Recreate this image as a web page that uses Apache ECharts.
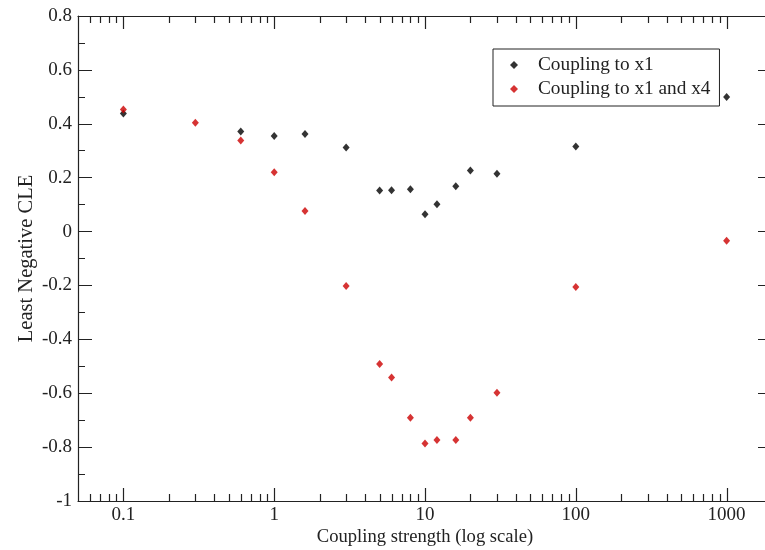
<!DOCTYPE html>
<html>
<head>
<meta charset="utf-8">
<script src="https://cdn.jsdelivr.net/npm/echarts@6/dist/echarts.min.js"></script>
<style>
  html, body { margin: 0; padding: 0; background: #fff; }
  #chart { width: 765px; height: 550px; }
</style>
</head>
<body>
<div id="chart"></div>
<script>
// coupling strengths (x) and least negative CLE (y)
const x1Strength = [0.1, 0.6, 1, 1.6, 3, 5, 6, 8, 10, 12, 16, 20, 30, 100, 1000];
const x1Cle = [0.438, 0.371, 0.355, 0.362, 0.312, 0.152, 0.153, 0.157, 0.064, 0.101, 0.168, 0.227, 0.215, 0.316, 0.499];

const x14Strength = [0.1, 0.3, 0.6, 1, 1.6, 3, 5, 6, 8, 10, 12, 16, 20, 30, 100, 1000];
const x14Cle = [0.453, 0.404, 0.338, 0.220, 0.076, -0.202, -0.492, -0.542, -0.691, -0.787, -0.774, -0.774, -0.691, -0.598, -0.206, -0.034];

const seriesNames = ["Coupling to x1", "Coupling to x1 and x4"];

// log axis ticks: decades (long) and 2..9 in each decade (short)
const majorTicks = [0.1, 1, 10, 100, 1000];
const minorTicks = [
  0.06, 0.07, 0.08, 0.09,
  0.2, 0.3, 0.4, 0.5, 0.6, 0.7, 0.8, 0.9,
  2, 3, 4, 5, 6, 7, 8, 9,
  20, 30, 40, 50, 60, 70, 80, 90,
  200, 300, 400, 500, 600, 700, 800, 900
];

const xMin = 0.05, xMax = 2000;
const yMin = -1, yMax = 0.8;

const font = "Liberation Serif";
const axisColor = "#222";
const textColor = "#222";

const chart = echarts.init(document.getElementById("chart"));

const zip = (xs, ys) => xs.map((x, i) => [x, ys[i]]);

// tick marks along bottom and top of the frame, pointing inward
const tickData = majorTicks.map((v) => ({ value: [v, yMin], len: 13 }))
  .concat(minorTicks.map((v) => ({ value: [v, yMin], len: 7 })));

function renderTick(params, api) {
  const len = tickData[params.dataIndex].len;
  const b = api.coord([api.value(0), yMin]);
  const t = api.coord([api.value(0), yMax]);
  const x = Math.round(b[0]) + 0.5;
  const style = { stroke: axisColor, lineWidth: 1.2, fill: null };
  return {
    type: "group",
    children: [
      { type: "line", shape: { x1: x, y1: b[1], x2: x, y2: b[1] - len }, style },
      { type: "line", shape: { x1: x, y1: t[1], x2: x, y2: t[1] + len }, style },
    ],
  };
}

const nameStyle = { fontFamily: font, color: textColor };

const options = {
  animation: false,
  grid: { left: 78, top: 16, width: 694, height: 485, outerBoundsMode: "none", containLabel: false },
  legend: {
    orient: "vertical",
    left: 493,
    top: 49,
    padding: [6, 9, 7, 17],
    itemGap: 4,
    itemWidth: 8,
    itemHeight: 8,
    borderColor: "#222",
    borderWidth: 1,
    data: seriesNames.map((n) => ({ name: n, icon: "diamond" })),
    textStyle: {
      fontFamily: font,
      fontSize: 19.3,
      color: textColor,
      lineHeight: 20,
      padding: [0, 0, 0, 15],
    },
  },
  xAxis: [
    {
      type: "log",
      logBase: 10,
      min: xMin,
      max: xMax,
      position: "bottom",
      name: "Coupling strength (log scale)",
      nameLocation: "middle",
      nameGap: 27,
      nameMoveOverlap: false,
      nameTextStyle: { ...nameStyle, fontSize: 18.6 },
      axisLine: { onZero: false, lineStyle: { color: axisColor, width: 1.2 } },
      axisTick: { show: false },
      axisLabel: {
        fontFamily: font,
        fontSize: 19,
        color: textColor,
        margin: 5,
        showMinLabel: false,
        showMaxLabel: false,
        formatter: (v) => String(v),
      },
      splitLine: { show: false },
    },
    {
      type: "log",
      logBase: 10,
      min: xMin,
      max: xMax,
      position: "top",
      axisLine: { onZero: false, lineStyle: { color: axisColor, width: 1.2 } },
      axisTick: { show: false },
      axisLabel: { show: false },
      splitLine: { show: false },
    },
  ],
  yAxis: [
    {
      type: "value",
      min: yMin,
      max: yMax,
      interval: 0.2,
      position: "left",
      name: "Least Negative CLE",
      nameLocation: "middle",
      nameGap: 41,
      nameMoveOverlap: false,
      nameTextStyle: { ...nameStyle, fontSize: 20.5 },
      axisLine: { onZero: false, lineStyle: { color: axisColor, width: 1.2 } },
      axisTick: { inside: true, length: 14, lineStyle: { color: axisColor } },
      minorTick: { show: true, splitNumber: 2, length: 7, lineStyle: { color: axisColor } },
      axisLabel: {
        fontFamily: font,
        fontSize: 19,
        color: textColor,
        margin: 6,
        formatter: (v) => String(Math.round(v * 10) / 10),
      },
      splitLine: { show: false },
    },
    {
      type: "value",
      min: yMin,
      max: yMax,
      interval: 0.2,
      position: "right",
      axisLine: { onZero: false, lineStyle: { color: axisColor, width: 1.2 } },
      axisTick: { inside: true, length: 14, lineStyle: { color: axisColor } },
      minorTick: { show: true, splitNumber: 2, length: 7, lineStyle: { color: axisColor } },
      axisLabel: { show: false },
      splitLine: { show: false },
    },
  ],
  series: [
    {
      name: "x ticks",
      type: "custom",
      silent: true,
      clip: false,
      z: 10,
      data: tickData.map((d) => d.value),
      renderItem: renderTick,
    },
    {
      name: seriesNames[0],
      type: "scatter",
      symbol: "diamond",
      symbolSize: [7, 8],
      itemStyle: { color: "#000" },
      data: zip(x1Strength, x1Cle),
    },
    {
      name: seriesNames[1],
      type: "scatter",
      symbol: "diamond",
      symbolSize: [7, 8],
      itemStyle: { color: "#cc0000" },
      data: zip(x14Strength, x14Cle),
    },
  ],
};

chart.setOption(options);
</script>
</body>
</html>
